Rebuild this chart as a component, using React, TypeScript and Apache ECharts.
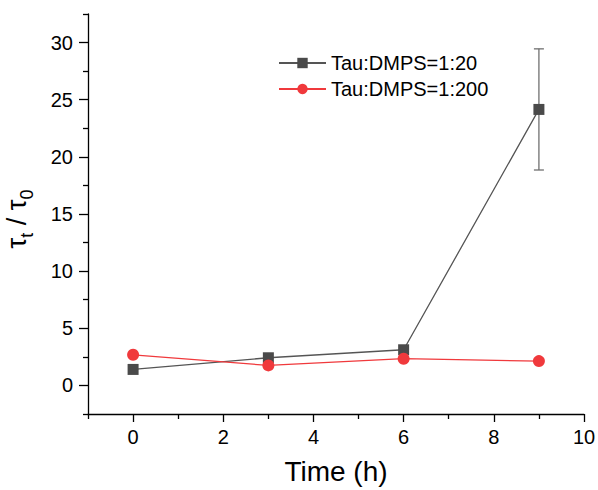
import React, { useEffect, useRef } from "react";
import * as echarts from "echarts";

const times = [0, 3, 6, 9];
const ratio20 = [1.4, 2.42, 3.12, 24.15];
const ratio20Err = [0, 0, 0, 5.3];
const ratio200 = [2.68, 1.75, 2.34, 2.13];
const xMajor = [0, 2, 4, 6, 8, 10];
const xMinor = [-1, 1, 3, 5, 7, 9];
const yMajor = [0, 5, 10, 15, 20, 25, 30];
const yMinor = [-2.5, 2.5, 7.5, 12.5, 17.5, 22.5, 27.5, 32.5];
const seriesNames = ["Tau:DMPS=1:20", "Tau:DMPS=1:200"];

const FONT = "Liberation Sans, Arial, sans-serif";
const DARK = "#4a4a4a";
const RED = "#f0393c";

export default function App() {
  const ref = useRef<HTMLDivElement>(null);
  useEffect(() => {
    document.body.style.margin = "0";
    if (!ref.current) return;
    const chart = echarts.init(ref.current, undefined, { renderer: "svg" });
    const axisLine = { show: true, onZero: false, lineStyle: { color: "#000", width: 1.3 } };
    chart.setOption({
      animation: false,
      backgroundColor: "#fff",
      textStyle: { fontFamily: FONT },
      grid: { left: 88, right: 14, top: 14, bottom: 76, containLabel: false, outerBoundsMode: "none" },
      legend: {
        orient: "vertical",
        left: 278,
        top: 53,
        padding: 0,
        itemWidth: 47,
        itemHeight: 13,
        itemGap: 6,
        textStyle: { fontSize: 20, color: "#000", fontFamily: FONT },
        data: seriesNames,
      },
      xAxis: [
        {
          type: "value",
          min: -1,
          max: 10,
          position: "bottom",
          axisLine,
          axisTick: { show: true, customValues: xMajor, length: 8, lineStyle: { color: "#000", width: 1.3 } },
          axisLabel: { customValues: xMajor, fontSize: 20, color: "#000", margin: 13, fontFamily: FONT },
          splitLine: { show: false },
          name: "Time (h)",
          nameLocation: "middle",
          nameGap: 43,
          nameTextStyle: { fontSize: 28, color: "#000", fontFamily: FONT },
        },
        {
          type: "value",
          min: -1,
          max: 10,
          position: "bottom",
          axisLine: { show: false, onZero: false },
          axisTick: { show: true, customValues: xMinor, length: 5, lineStyle: { color: "#000", width: 1.3 } },
          axisLabel: { show: false },
          splitLine: { show: false },
        },
      ],
      yAxis: [
        {
          type: "value",
          min: -2.5,
          max: 32.5,
          position: "left",
          axisLine,
          axisTick: { show: true, customValues: yMajor, length: 9, lineStyle: { color: "#000", width: 1.3 } },
          axisLabel: { customValues: yMajor, fontSize: 20, color: "#000", margin: 15, fontFamily: FONT },
          splitLine: { show: false },
          name: "{t|τ}{s|t}{t| / τ}{s|0}",
          nameLocation: "middle",
          nameRotate: 90,
          nameGap: 52,
          nameTextStyle: {
            color: "#000",
            fontFamily: FONT,
            padding: [0, 10, 0, 0],
            rich: {
              t: { fontSize: 27, color: "#000", fontFamily: FONT, lineHeight: 34, verticalAlign: "bottom", padding: [0, 0, 6, 0] },
              s: { fontSize: 18, color: "#000", fontFamily: FONT, lineHeight: 34, verticalAlign: "bottom", padding: [0, 0, 0, 0] },
            },
          },
        },
        {
          type: "value",
          min: -2.5,
          max: 32.5,
          position: "left",
          axisLine: { show: false, onZero: false },
          axisTick: { show: true, customValues: yMinor, length: 5, lineStyle: { color: "#000", width: 1.3 } },
          axisLabel: { show: false },
          splitLine: { show: false },
        },
      ],
      series: [
        {
          type: "custom",
          name: "err",
          xAxisIndex: 0,
          yAxisIndex: 0,
          z: 1,
          silent: true,
          data: times.map((t, i) => [t, ratio20[i] - ratio20Err[i], ratio20[i] + ratio20Err[i]]),
          renderItem: (params: any, api: any) => {
            const x = api.value(0);
            const lo = api.coord([x, api.value(1)]);
            const hi = api.coord([x, api.value(2)]);
            const w = 5;
            const style = { stroke: "#707070", lineWidth: 1.3 };
            return {
              type: "group",
              children: [
                { type: "line", shape: { x1: lo[0], y1: lo[1], x2: hi[0], y2: hi[1] }, style },
                { type: "line", shape: { x1: lo[0] - w, y1: lo[1], x2: lo[0] + w, y2: lo[1] }, style },
                { type: "line", shape: { x1: hi[0] - w, y1: hi[1], x2: hi[0] + w, y2: hi[1] }, style },
              ],
            };
          },
        },
        {
          type: "line",
          name: seriesNames[0],
          xAxisIndex: 0,
          yAxisIndex: 0,
          z: 3,
          data: times.map((t, i) => [t, ratio20[i]]),
          symbol: "rect",
          symbolSize: 11,
          showAllSymbol: true,
          itemStyle: { color: DARK },
          lineStyle: { color: "#555", width: 1.3 },
        },
        {
          type: "line",
          name: seriesNames[1],
          xAxisIndex: 0,
          yAxisIndex: 0,
          z: 4,
          data: times.map((t, i) => [t, ratio200[i]]),
          symbol: "circle",
          symbolSize: 12,
          itemStyle: { color: RED },
          lineStyle: { color: RED, width: 1.3 },
        },
      ],
    });
    return () => chart.dispose();
  }, []);
  return <div ref={ref} style={{ width: 598, height: 490 }} />;
}
